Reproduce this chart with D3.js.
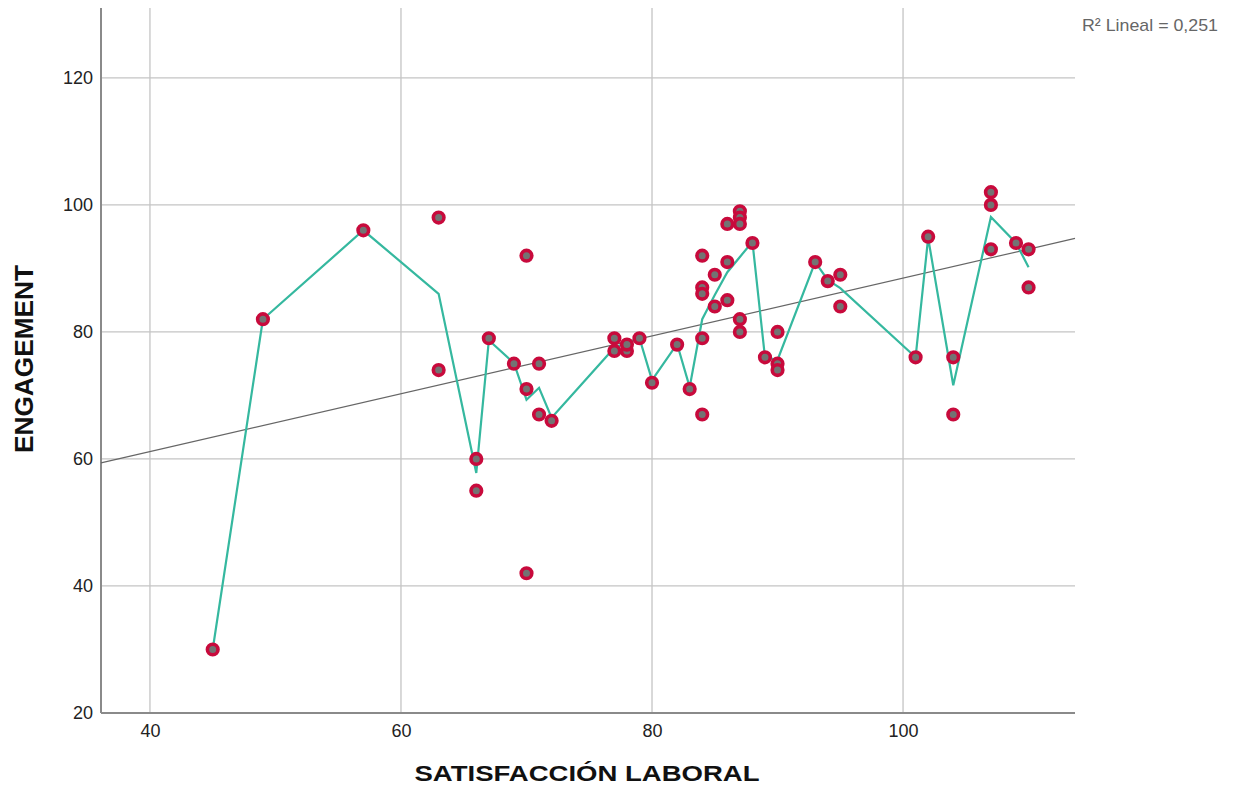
<!DOCTYPE html>
<html>
<head>
<meta charset="utf-8">
<script src="https://cdn.jsdelivr.net/npm/d3@7"></script>
<style>
  html, body { margin: 0; padding: 0; background: #fff; }
  svg { display: block; font-family: "Liberation Sans", Arial, sans-serif; }
</style>
</head>
<body>
<svg id="chart" width="1235" height="796"></svg>
<script>
// Scatter points: satisfaction (x) and engagement (y)
const satisfaccion = [45,49,57,63,63,66,66,67,69,70,70,70,71,71,72,77,77,78,78,79,80,82,83,84,84,84,84,84,85,85,86,86,86,87,87,87,87,87,88,89,90,90,90,93,94,95,95,101,102,104,104,107,107,107,109,110,110];
const engagement   = [30,82,96,98,74,60,55,79,75,92,71,42,75,67,66,79,77,77,78,79,72,78,71,92,87,86,79,67,89,84,97,91,85,99,98,97,82,80,94,76,80,75,74,91,88,89,84,76,95,76,67,102,100,93,94,93,87];

// Loess fit line vertices
const fitX = [45,49,57,63,66,67,69,70,71,72,77,78,79,80,82,83,84,85,86,87,88,89,90,93,94,95,101,102,104,107,109,110];
const fitY = [30,82,96,86,57.8,78.7,75.1,69.3,71.2,66.5,77.5,78.3,79,72.4,78.1,71.3,82,85.8,89.4,91.8,94.2,76,75.6,91,88.2,86.9,76,94.8,71.6,98.1,94,90.2];

const xTicks = [40,60,80,100];
const yTicks = [20,40,60,80,100,120];
const r2Label = "R\u00B2 Lineal = 0,251";
const xTitle = "SATISFACCIÓN LABORAL";
const yTitle = "ENGAGEMENT";

(function () {
const svg = d3.select("#chart");
const pLeft = 101, pRight = 1075, pTop = 8, pBottom = 713;

const x = d3.scaleLinear().domain([36.1, 113.7]).range([pLeft, pRight]);
const y = d3.scaleLinear().domain([20, 131]).range([pBottom, pTop]);

// grid
svg.append("g").selectAll("line").data(xTicks).join("line")
  .attr("x1", d => x(d)).attr("x2", d => x(d))
  .attr("y1", pTop).attr("y2", pBottom)
  .attr("stroke", "#c4c4c4").attr("stroke-width", 1.3);
svg.append("g").selectAll("line").data(yTicks.filter(d => d > 20)).join("line")
  .attr("x1", pLeft).attr("x2", pRight)
  .attr("y1", d => y(d)).attr("y2", d => y(d))
  .attr("stroke", "#c4c4c4").attr("stroke-width", 1.3);

// axes (no tick marks)
const xAxis = d3.axisBottom(x).tickValues(xTicks).tickSize(0).tickPadding(11);
const yAxis = d3.axisLeft(y).tickValues(yTicks).tickSize(0).tickPadding(8);
const gx = svg.append("g").attr("transform", `translate(0,${pBottom})`).call(xAxis);
const gy = svg.append("g").attr("transform", `translate(${pLeft},0)`).call(yAxis);
[gx, gy].forEach(g => {
  g.select(".domain").attr("stroke", "#8a8a8a").attr("stroke-width", 2);
  g.selectAll("text").attr("font-size", 18).attr("fill", "#222")
    .attr("font-family", "'Liberation Sans', Arial, sans-serif");
});
gx.select(".domain").attr("d", `M${pLeft},0H${pRight}`);
gy.select(".domain").attr("d", `M0,${pTop}V${pBottom}`);

// linear regression computed from the points
const mx = d3.mean(satisfaccion), my = d3.mean(engagement);
let sxy = 0, sxx = 0;
satisfaccion.forEach((v, i) => { sxy += (v - mx) * (engagement[i] - my); sxx += (v - mx) * (v - mx); });
const slope = sxy / sxx, intercept = my - slope * mx;
const x0 = x.domain()[0], x1 = x.domain()[1];
svg.append("line")
  .attr("x1", x(x0)).attr("y1", y(intercept + slope * x0))
  .attr("x2", x(x1)).attr("y2", y(intercept + slope * x1))
  .attr("stroke", "#666").attr("stroke-width", 1.2);

// fit line
const line = d3.line().x(d => x(d[0])).y(d => y(d[1]));
svg.append("path")
  .datum(fitX.map((v, i) => [v, fitY[i]]))
  .attr("d", line).attr("fill", "none")
  .attr("stroke", "#35b89f").attr("stroke-width", 2.2);

// points
svg.append("g").selectAll("circle").data(satisfaccion.map((v, i) => [v, engagement[i]])).join("circle")
  .attr("cx", d => x(d[0])).attr("cy", d => y(d[1]))
  .attr("r", 5.3)
  .attr("fill", "#737373")
  .attr("stroke", "#c80a3c").attr("stroke-width", 3.6);

// titles
svg.append("text").attr("x", 587).attr("y", 781).attr("text-anchor", "middle")
  .attr("font-size", 22).attr("font-weight", "bold").attr("fill", "#111")
  .attr("textLength", 345).attr("lengthAdjust", "spacingAndGlyphs").text(xTitle);
svg.append("text").attr("transform", "translate(33,359) rotate(-90)").attr("text-anchor", "middle")
  .attr("font-size", 25).attr("font-weight", "bold").attr("fill", "#111")
  .attr("textLength", 188).attr("lengthAdjust", "spacingAndGlyphs").text(yTitle);

svg.append("text").attr("x", 1218).attr("y", 31).attr("text-anchor", "end")
  .attr("font-size", 17).attr("fill", "#666")
  .attr("textLength", 136).attr("lengthAdjust", "spacingAndGlyphs").text(r2Label);
})();
</script>
</body>
</html>
